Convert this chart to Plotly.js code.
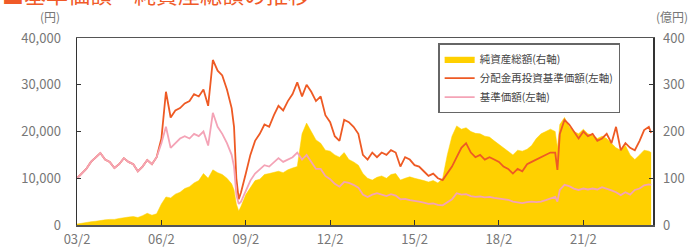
<!DOCTYPE html>
<html><head><meta charset="utf-8">
<script src="https://cdn.plot.ly/plotly-3.0.1.min.js"></script>
<style>html,body{margin:0;padding:0;background:#fff}#c{width:691px;height:250px}</style>
</head><body><div id="c"></div>
<script>
const dates = [
"2003-02","2003-04","2003-06","2003-08","2003-10","2003-12",
"2004-02","2004-04","2004-06","2004-08","2004-10","2004-12",
"2005-02","2005-04","2005-06","2005-08","2005-10","2005-12",
"2006-02","2006-04","2006-06","2006-08","2006-10","2006-12",
"2007-02","2007-04","2007-06","2007-08","2007-10","2007-12",
"2008-02","2008-04","2008-06","2008-08","2008-09","2008-10","2008-11","2008-12",
"2009-02","2009-04","2009-06","2009-08","2009-10","2009-12",
"2010-02","2010-04","2010-06","2010-08","2010-10","2010-12",
"2011-02","2011-04","2011-06","2011-08","2011-10","2011-12",
"2012-02","2012-04","2012-06","2012-08","2012-10","2012-12",
"2013-02","2013-04","2013-06","2013-08","2013-10","2013-12",
"2014-02","2014-04","2014-06","2014-08","2014-10","2014-12",
"2015-02","2015-04","2015-06","2015-08","2015-10","2015-12",
"2016-02","2016-04","2016-06","2016-08","2016-10","2016-12",
"2017-02","2017-04","2017-06","2017-08","2017-10","2017-12",
"2018-02","2018-04","2018-06","2018-08","2018-10","2018-12",
"2019-02","2019-04","2019-06","2019-08","2019-10","2019-12",
"2020-02","2020-03","2020-04","2020-06","2020-08","2020-10","2020-12",
"2021-02","2021-04","2021-06","2021-08","2021-10","2021-12",
"2022-02","2022-04","2022-06","2022-08","2022-10","2022-12",
"2023-02","2023-04","2023-06","2023-07"
];
// 分配金再投資基準価額 (円)
const reinvestNav = [
10000,11000,12000,13500,14500,15400,
14000,13500,12200,13000,14300,13500,
13000,11500,12500,13900,13000,14500,
18500,28500,23000,24500,25000,26000,
26500,28000,27500,29000,25500,35300,
33000,32000,29000,25000,21000,10000,5500,7000,
11000,15000,18000,19500,21500,21000,
23500,25500,24500,26500,28000,30500,
27500,30000,28500,26500,27500,23500,
22000,19000,18000,22500,22000,21000,
19500,15000,14000,15500,14500,15500,
15000,16000,15500,12500,14500,14000,
12800,12500,11500,10500,11000,10000,
9600,11000,12500,14500,16500,17500,
15500,14500,15000,14000,14500,14000,
13500,12500,12000,11000,12000,11500,
13000,13500,14000,14500,15000,15500,
15500,11800,19500,22500,21500,20000,18500,
20000,19000,19500,18000,18500,19500,
17500,21000,16000,17500,16500,16000,
18000,20300,21000,19700
];
// 基準価額 (円)
const nav = [
10000,11000,12000,13500,14500,15400,
14000,13500,12200,13000,14300,13500,
13000,11500,12500,13900,13000,14500,
17500,21000,16500,17500,18500,19000,
18500,19500,19000,20000,17000,24000,
21000,19500,17500,15000,12500,6500,4500,5000,
7500,9500,11000,11800,12800,12500,
13500,14300,13500,14000,14500,15500,
14000,15000,13500,12000,12000,10500,
9800,8800,8200,9200,9000,8600,
8000,6500,6000,6500,6800,6500,
6200,6600,6300,5500,5600,5300,
5200,5000,4800,4500,4600,4300,
4200,4800,5500,6800,6500,6600,
6200,6000,6100,5900,6000,5800,
5700,5500,5400,5000,4900,4700,
4900,5000,4900,5000,5300,5600,
6000,5000,7500,8600,8300,7800,7500,
7800,7600,7800,7600,8100,7800,
7400,7000,6400,7000,6500,7500,
7800,8500,8700,8600
];
// 純資産総額 (億円)
const netAssets = [
2,4,5,7,8,10,
11,12,12,14,16,17,
18,16,20,25,21,24,
45,60,58,66,70,78,
82,90,95,110,100,118,
112,108,100,88,75,45,30,40,
65,80,95,98,108,110,
112,115,112,118,122,125,
195,218,200,182,175,160,
158,150,145,155,140,135,
128,110,100,96,102,105,
100,108,110,96,100,103,
100,98,95,92,95,90,
100,150,190,212,205,208,
200,196,195,190,188,180,
172,165,158,150,160,158,
162,170,185,195,200,205,
200,165,215,230,210,200,195,
205,195,192,185,190,185,
175,165,160,170,150,140,
150,160,158,155
];
const tickDates = ["2003-02-01","2006-02-01","2009-02-01","2012-02-01","2015-02-01","2018-02-01","2021-02-01"];
const tickLabels = ["03/2","06/2","09/2","12/2","15/2","18/2","21/2"];
const leftTicks = [0,10000,20000,30000,40000];
const rightTicks = [0,100,200,300,400];
const names = ["純資産総額(右軸)","分配金再投資基準価額(左軸)","基準価額(左軸)"];

const F = '"Noto Sans CJK JP", "Noto Sans", sans-serif';
const traces = [
  {x: dates, y: netAssets, name: names[0], type: 'scatter', mode: 'lines', fill: 'tozeroy',
   fillcolor: '#FFD000', line: {color: '#FFD000', width: 0.5}, yaxis: 'y', hoverinfo: 'skip'},
  {x: dates, y: reinvestNav, name: names[1], type: 'scatter', mode: 'lines',
   line: {color: '#EE5A24', width: 1.8}, yaxis: 'y2'},
  {x: dates, y: nav, name: names[2], type: 'scatter', mode: 'lines',
   line: {color: '#F4A3B6', width: 1.8}, yaxis: 'y2'}
];
const layout = {
  width: 691, height: 250,
  margin: {l: 77, r: 38, t: 38, b: 25},
  paper_bgcolor: '#fff', plot_bgcolor: '#fff',
  showlegend: true,
  font: {family: F, color: '#666', size: 12},
  xaxis: {type: 'date', range: ['2003-02-01', '2023-07-25'],
    tickvals: tickDates, ticktext: tickLabels, ticks: 'inside', ticklen: 5, tickcolor: '#333',
    showgrid: false, zeroline: false, showline: true, mirror: true, linecolor: '#555', linewidth: 1.5,
    tickfont: {size: 13, color: '#777', family: F}, ticklabelstandoff: 2},
  yaxis: {range: [0, 400], side: 'right', tickvals: rightTicks, ticks: 'inside', ticklen: 4, tickcolor: '#333',
    showgrid: false, zeroline: false, showline: true, linecolor: '#333', linewidth: 1.5,
    tickfont: {size: 13, color: '#777', family: F}, ticklabelstandoff: 6},
  yaxis2: {range: [0, 40000], side: 'left', overlaying: 'y', tickvals: leftTicks, tickformat: ',d',
    ticks: 'inside', ticklen: 4, tickcolor: '#333',
    showgrid: false, zeroline: false, showline: true, linecolor: '#333', linewidth: 1.5,
    tickfont: {size: 13, color: '#777', family: F}, ticklabelstandoff: 12},
  legend: {x: 0.627, y: 0.973, xanchor: 'left', yanchor: 'top', bgcolor: '#fff',
    bordercolor: '#666', borderwidth: 1.5, font: {size: 10.5, color: '#444', family: F},
    traceorder: 'normal', tracegroupgap: 0, itemwidth: 30},
  annotations: [
    {text: '■基準価額・純資産総額の推移', xref: 'paper', yref: 'paper', x: -0.1337, y: 1.24,
     xanchor: 'left', yanchor: 'middle', showarrow: false, font: {size: 22, color: '#F05A28', family: F}},
    {text: '(円)', xref: 'paper', yref: 'paper', x: -0.026, y: 1.115, xanchor: 'right', yanchor: 'middle',
     showarrow: false, font: {size: 12, color: '#777', family: F}},
    {text: '(億円)', xref: 'paper', yref: 'paper', x: 1.064, y: 1.115, xanchor: 'right', yanchor: 'middle',
     showarrow: false, font: {size: 12, color: '#777', family: F}}
  ]
};
Plotly.newPlot('c', traces, layout, {staticPlot: true, displayModeBar: false});
</script></body></html>
